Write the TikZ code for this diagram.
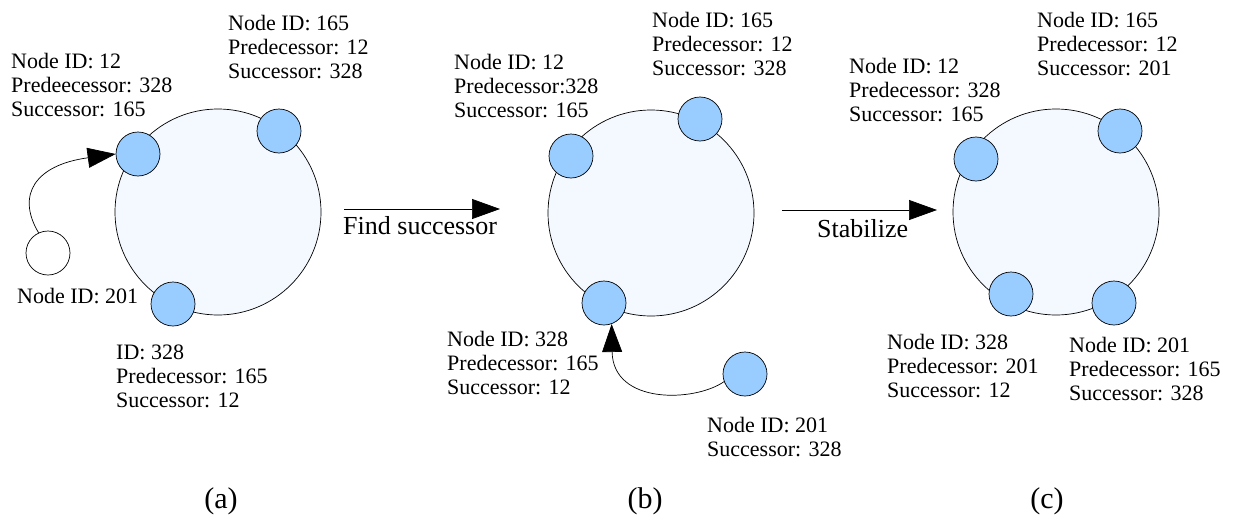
\documentclass[tikz,border=0pt]{standalone}
\usepackage{fontspec}
\setmainfont{Liberation Serif}
\usetikzlibrary{arrows.meta}
\definecolor{ringfill}{RGB}{244,249,255}
\definecolor{peerfill}{RGB}{153,204,255}
\begin{document}
\begin{tikzpicture}[x=1pt,y=-1pt,
  ring/.style={circle,draw=black,line width=0.7pt,fill=ringfill,minimum size=206pt,inner sep=0pt},
  peer/.style={circle,draw=black,line width=0.7pt,fill=peerfill,minimum size=44pt,inner sep=0pt},
  newpeer/.style={circle,draw=black,line width=0.7pt,fill=white,minimum size=44pt,inner sep=0pt},
  % multi-line labels are placed by the baseline of their last line
  info/.style={anchor=base west,align=left,inner sep=0pt,font=\fontsize{22}{24}\selectfont},
  steplabel/.style={anchor=base west,inner sep=0pt,font=\fontsize{26}{30}\selectfont},
  caption/.style={anchor=base,inner sep=0pt,font=\fontsize{30}{34}\selectfont},
  link/.style={line width=0.7pt,-{Triangle[length=28pt,width=20pt]}}]
\useasboundingbox (0,0) rectangle (1234,522);

% ---- (a) ----
\node[ring] (ringa) at (218,212) {};
\node[peer] (n12a) at (138,154) {};
\node[peer] (n165a) at (279,131) {};
\node[peer] (n328a) at (173,304) {};
\node[newpeer] (w201a) at (48,253) {};
\node[info] (t12a) at (11,116) {Node ID: 12\\Predeecessor: 328\\Successor: 165};
\node[info] (t165a) at (228,78) {Node ID: 165\\Predecessor: 12\\Successor: 328};
\node[info] (t201a) at (17,303) {Node ID: 201};
\node[info] (t328a) at (116,407) {ID: 328\\Predecessor: 165\\Successor: 12};
\draw[link] (w201a.115) .. controls (16,195) and (35,165) .. (n12a.west);
\node[caption] (capa) at (221,508) {(a)};

% ---- step arrow 1 ----
\coordinate (fs1) at (344,209);
\coordinate (fs2) at (500,209);
\draw[link] (fs1) -- (fs2);
\node[steplabel] (fslbl) at (343,234) {Find successor};

% ---- (b) ----
\node[ring] (ringb) at (651,213) {};
\node[peer] (n12b) at (571,156) {};
\node[peer] (n165b) at (700,119) {};
\node[peer] (n328b) at (604,303) {};
\node[peer] (n201b) at (745,374) {};
\node[info] (t12b) at (454,117) {Node ID: 12\\Predecessor:328\\Successor: 165};
\node[info] (t165b) at (652,75) {Node ID: 165\\Predecessor: 12\\Successor: 328};
\node[info] (t328b) at (447,394) {Node ID: 328\\Predecessor: 165\\Successor: 12};
\node[info] (t201b) at (707,456) {Node ID: 201\\Successor: 328};
\draw[link] (n201b.200) .. controls (695,402) and (613,405) .. (n328b.-70);
\node[caption] (capb) at (645,508) {(b)};

% ---- step arrow 2 ----
\coordinate (st1) at (782,210);
\coordinate (st2) at (937,210);
\draw[link] (st1) -- (st2);
\node[steplabel] (stlbl) at (817,237) {Stabilize};

% ---- (c) ----
\node[ring] (ringc) at (1056,212) {};
\node[peer] (n12c) at (976,159) {};
\node[peer] (n165c) at (1120,131) {};
\node[peer] (n328c) at (1011,294) {};
\node[peer] (n201c) at (1114,303) {};
\node[info] (t12c) at (849,121) {Node ID: 12\\Predecessor: 328\\Successor: 165};
\node[info] (t165c) at (1037,75) {Node ID: 165\\Predecessor: 12\\Successor: 201};
\node[info] (t328c) at (887,397) {Node ID: 328\\Predecessor: 201\\Successor: 12};
\node[info] (t201c) at (1069,400) {Node ID: 201\\Predecessor: 165\\Successor: 328};
\node[caption] (capc) at (1047,508) {(c)};
\end{tikzpicture}
\end{document}
